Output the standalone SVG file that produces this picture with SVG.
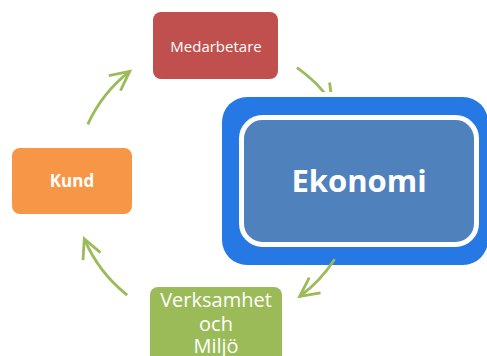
<svg xmlns="http://www.w3.org/2000/svg" width="487" height="356" viewBox="0 0 487 356">
  <style>
    .lbl { font-family: "Open Sans", "Liberation Sans", sans-serif; fill: #ffffff; text-anchor: middle; }
    .conn { fill: none; stroke: #9BBB59; stroke-width: 2.8; marker-end: url(#head); }
  </style>
  <defs>
    <marker id="head" markerUnits="userSpaceOnUse" viewBox="-23 -13 26 26" markerWidth="26" markerHeight="26" refX="0" refY="0" orient="auto">
      <path d="M -19 -9.5 L 0 0 L -19 9.5" fill="none" stroke="#9BBB59" stroke-width="2.8"/>
    </marker>
    <clipPath id="clipTop">
      <rect x="0" y="0" width="487" height="92"/>
    </clipPath>
  </defs>
  <rect width="487" height="356" fill="#ffffff"/>

  <g id="medarbetare">
    <rect x="153" y="12" width="125" height="67" rx="8" fill="#C0504D"/>
    <text class="lbl" x="216" y="51.5" font-size="15">Medarbetare</text>
  </g>

  <g id="kund">
    <rect x="12" y="148" width="120" height="66" rx="8" fill="#F79646"/>
    <text class="lbl" x="72" y="187" font-size="17" font-weight="bold">Kund</text>
  </g>

  <g id="verksamhet">
    <rect x="150" y="287" width="132" height="90" rx="8" fill="#9BBB59"/>
    <text class="lbl" x="216" y="306.5" font-size="20">Verksamhet</text>
    <text class="lbl" x="216" y="330.5" font-size="20">och</text>
    <text class="lbl" x="216" y="353" font-size="20">Miljö</text>
  </g>

  <g id="ekonomi">
    <rect x="222" y="97" width="266" height="168" rx="25" fill="#2679E4"/>
    <rect x="241.5" y="117.5" width="235" height="127" rx="21" fill="#4F81BD" stroke="#ffffff" stroke-width="5"/>
    <text class="lbl" x="359" y="192" font-size="31" font-weight="bold">Ekonomi</text>
  </g>

  <g id="connectors">
    <path class="conn" d="M 87.8 124.3 A 141 141 0 0 1 129.7 71.4"/>
    <path class="conn" clip-path="url(#clipTop)" d="M 296.9 67.7 A 141 141 0 0 1 332.5 103.5"/>
    <path class="conn" d="M 334.6 259.2 A 141 141 0 0 1 299.6 296.5"/>
    <path class="conn" d="M 127.2 295.1 A 143 143 0 0 1 84.3 238.9"/>
  </g>
</svg>
